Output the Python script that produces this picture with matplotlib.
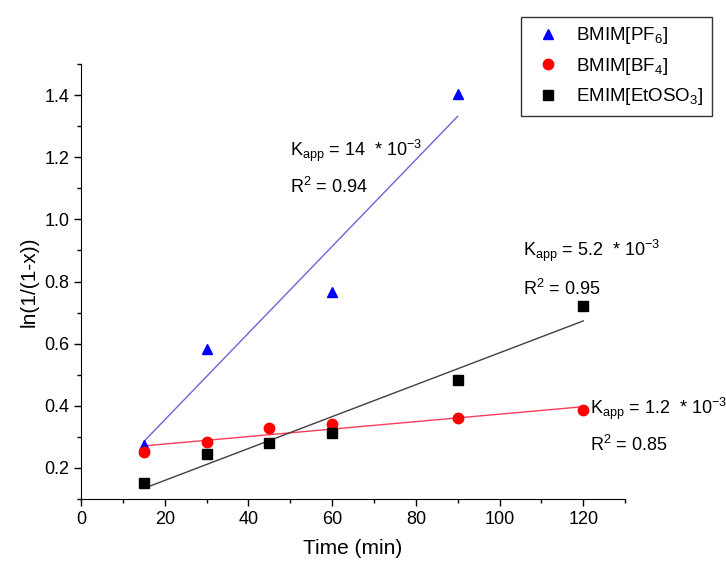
import numpy as np
import matplotlib
matplotlib.use("Agg")
from matplotlib import pyplot as plt
from matplotlib.ticker import MultipleLocator

plt.rcParams['font.family'] = ['Liberation Sans', 'DejaVu Sans']
plt.rcParams['mathtext.fontset'] = 'custom'
plt.rcParams['mathtext.rm'] = 'Liberation Sans'
plt.rcParams['mathtext.it'] = 'Liberation Sans'

# dados
tempo_pf6 = [15, 30, 60, 90]
valor_pf6 = [0.274, 0.582, 0.765, 1.403]
tempo_bf4 = [15, 30, 45, 60, 90, 120]
valor_bf4 = [0.251, 0.283, 0.328, 0.343, 0.360, 0.385]
tempo_etoso3 = [15, 30, 45, 60, 90, 120]
valor_etoso3 = [0.152, 0.245, 0.280, 0.312, 0.482, 0.720]

rotulos = ['BMIM[PF$_6$]', 'BMIM[BF$_4$]', 'EMIM[EtOSO$_3$]']
kapp = ['14', '5.2', '1.2']
r2 = ['0.94', '0.95', '0.85']

fig = plt.figure(figsize=(7.26, 5.65), dpi=100)
ax = fig.add_axes([0.1116, 0.1168, 0.7494, 0.7699])

series = [
    (tempo_pf6, valor_pf6, '^', 'blue', '#6f63d9'),
    (tempo_bf4, valor_bf4, 'o', 'red', '#ff3c5a'),
    (tempo_etoso3, valor_etoso3, 's', 'black', '#404040'),
]
handles = []
for (t, v, m, cor, corlinha), rot in zip(series, rotulos):
    a, b = np.polyfit(t, v, 1)
    xs = np.array([min(t), max(t)])
    ax.plot(xs, a * xs + b, color=corlinha, lw=1.0, zorder=2)
    h, = ax.plot(t, v, m, color=cor, ms=7.5 if m != 's' else 7, ls='none',
                 label=rot, zorder=3)
    handles.append(h)

# anotacoes
pos_texto = [(50, 1.22, 1.105), (105.5, 0.90, 0.775), (121.5, 0.39, 0.274)]
for (x, yk, yr), k, r in zip(pos_texto, kapp, r2):
    ax.text(x, yk, r'K$_{\mathrm{app}}$ = ' + k + r'  * 10$^{-3}$',
            fontsize=13, va='center', ha='left', clip_on=False)
    ax.text(x, yr, r'R$^2$ = ' + r, fontsize=13, va='center', ha='left',
            clip_on=False)

ax.set_xlim(0, 130)
ax.set_ylim(0.1, 1.5)
ax.xaxis.set_minor_locator(MultipleLocator(10))
ax.yaxis.set_minor_locator(MultipleLocator(0.1))
ax.set_xticks(np.arange(0, 121, 20))
ax.set_yticks(np.arange(0.2, 1.41, 0.2))
ax.yaxis.set_major_formatter(matplotlib.ticker.FormatStrFormatter('%.1f'))
ax.spines['top'].set_visible(False)
ax.spines['right'].set_visible(False)
ax.tick_params(which='major', direction='out', length=5, width=1, labelsize=13)
ax.tick_params(which='minor', direction='out', length=3, width=1)
ax.set_xlabel('Time (min)', fontsize=15, labelpad=8)
ax.set_ylabel('ln(1/(1-x))', fontsize=15)

leg = fig.legend(handles=handles, loc='upper left',
                 bbox_to_anchor=(0.7176, 0.970), borderaxespad=0,
                 fontsize=13.5, frameon=True,
                 fancybox=False, edgecolor='black', handletextpad=0.5,
                 borderpad=0.45, labelspacing=0.5)
leg.get_frame().set_linewidth(1.0)

plt.savefig('out.png', dpi=100)
